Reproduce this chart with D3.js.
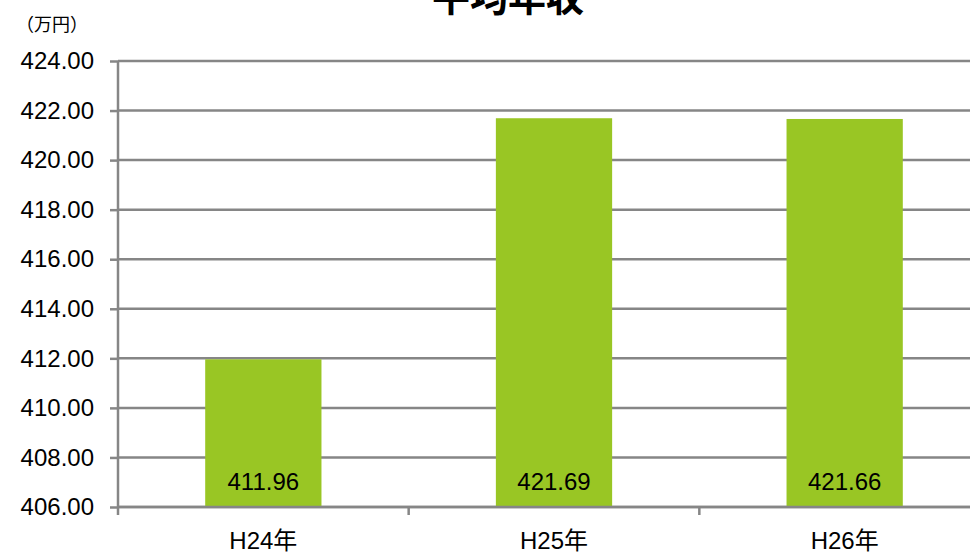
<!DOCTYPE html>
<html>
<head>
<meta charset="utf-8">
<script src="https://cdn.jsdelivr.net/npm/d3@7/dist/d3.min.js"></script>
<style>
  html, body { margin: 0; padding: 0; background: #fff; }
  svg { display: block; }
</style>
</head>
<body>
<svg id="chart" width="970" height="555"></svg>
<script>
// Average annual income by fiscal year (unit: 10,000 yen)
const categories = ["H24年", "H25年", "H26年"];
const values = [411.96, 421.69, 421.66];
const yTicks = [406, 408, 410, 412, 414, 416, 418, 420, 422, 424];
const title = "平均年収";
const unitLabel = "（万円）";

const svg = d3.select("#chart");
const margin = { left: 118, top: 61, bottom: 507 };
const plotRight = 990;

const x = d3.scaleBand()
  .domain(categories)
  .range([margin.left, plotRight])
  .paddingInner(0.6)
  .paddingOuter(0.3);

const y = d3.scaleLinear()
  .domain([406, 424])
  .range([margin.bottom, margin.top]);

const fontFamily = "'Liberation Sans', Arial, 'Noto Sans CJK JP', sans-serif";
const gridColor = "#868686";
const labelSize = "24px";

// horizontal gridlines
svg.append("g")
  .selectAll("line")
  .data(yTicks)
  .join("line")
  .attr("x1", margin.left)
  .attr("x2", plotRight)
  .attr("y1", d => y(d))
  .attr("y2", d => y(d))
  .attr("stroke", gridColor)
  .attr("stroke-width", 2.5);

// bars
svg.append("g")
  .selectAll("rect")
  .data(values)
  .join("rect")
  .attr("x", (d, i) => x(categories[i]))
  .attr("width", x.bandwidth())
  .attr("y", d => y(d))
  .attr("height", d => y(406) - y(d))
  .attr("fill", "#99C624");

// y axis
const yAxis = d3.axisLeft(y)
  .tickValues(yTicks)
  .tickFormat(d3.format(".2f"))
  .tickSize(8)
  .tickPadding(16);
const gy = svg.append("g")
  .attr("transform", `translate(${margin.left},0)`)
  .call(yAxis);
gy.select(".domain").attr("stroke", gridColor).attr("stroke-width", 2.5)
  .attr("d", `M0,${margin.top}V${margin.bottom + 8}`);
gy.selectAll(".tick line").attr("stroke", gridColor).attr("stroke-width", 2.5);
gy.selectAll(".tick text")
  .attr("fill", "#000")
  .style("font-family", fontFamily)
  .style("font-size", labelSize);

// x axis line with tick marks at category boundaries
const gx = svg.append("g");
gx.append("line")
  .attr("x1", margin.left).attr("x2", plotRight)
  .attr("y1", margin.bottom).attr("y2", margin.bottom)
  .attr("stroke", gridColor).attr("stroke-width", 2.5);
const bandEdges = categories.slice(1).map(c => x(c) - (x.step() - x.bandwidth()) / 2);
gx.selectAll("line.tick")
  .data(bandEdges)
  .join("line")
  .attr("class", "tick")
  .attr("x1", d => d).attr("x2", d => d)
  .attr("y1", margin.bottom).attr("y2", margin.bottom + 8)
  .attr("stroke", gridColor).attr("stroke-width", 2.5);

// category labels
gx.selectAll("text")
  .data(categories)
  .join("text")
  .attr("x", d => x(d) + x.bandwidth() / 2)
  .attr("y", 549)
  .attr("text-anchor", "middle")
  .style("font-family", fontFamily)
  .style("font-size", labelSize)
  .text(d => d);

// value labels inside bars
svg.append("g")
  .selectAll("text")
  .data(values)
  .join("text")
  .attr("x", (d, i) => x(categories[i]) + x.bandwidth() / 2)
  .attr("y", 490)
  .attr("text-anchor", "middle")
  .style("font-family", fontFamily)
  .style("font-size", labelSize)
  .text(d => d3.format(".2f")(d));

// unit label
svg.append("text")
  .attr("x", 16)
  .attr("y", 31)
  .style("font-family", "'Noto Sans CJK JP', sans-serif")
  .style("font-size", "18px")
  .text(unitLabel);

// title
svg.append("text")
  .attr("x", 508)
  .attr("y", 11)
  .attr("text-anchor", "middle")
  .style("font-family", "'Noto Sans CJK JP', sans-serif")
  .style("font-weight", "bold")
  .style("font-size", "38px")
  .text(title);
</script>
</body>
</html>
